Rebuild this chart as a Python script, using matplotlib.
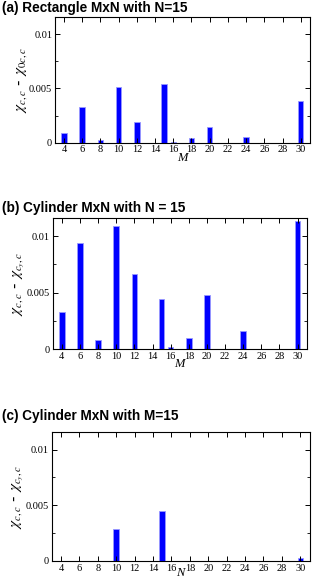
import numpy as np
import matplotlib.pyplot as plt
from matplotlib.ticker import MultipleLocator

plt.rcParams['mathtext.fontset'] = 'stix'

# Data
sizes = [4, 6, 8, 10, 12, 15, 16, 18, 20, 24, 30]
rect_n15 = [0.00085, 0.00325, 0.00025, 0.0051, 0.0019, 0.0054, 0.00003, 0.00045, 0.00147, 0.00055, 0.0038]
cyl_n15 = [0.0033, 0.0094, 0.0008, 0.01088, 0.00667, 0.00442, 0.00018, 0.001, 0.0048, 0.00162, 0.01133]
cyl_m15_sizes = [10, 15, 30]
cyl_m15 = [0.00288, 0.00447, 0.0003]

xticks = list(range(4, 31, 2))
titles = ["(a) Rectangle MxN with N=15",
          "(b) Cylinder MxN with N = 15",
          "(c) Cylinder MxN with M=15"]
ylabels = [r"$\chi_{c,c}$ - $\chi_{0c,c}$",
           r"$\chi_{c,c}$ - $\chi_{c_y,c}$",
           r"$\chi_{c,c}$ - $\chi_{c_y,c}$"]
xlabels = ["M", "M", "N"]
xlabel_pads = [-2, -2, -4]

fig = plt.figure(figsize=(3.12, 5.81), dpi=100)
# axes rectangles [left, bottom, width, height]
rects = [[0.176, 0.7544, 0.817, 0.2169],
         [0.169, 0.3993, 0.814, 0.225],
         [0.166, 0.0345, 0.826, 0.2225]]
title_y = [0.986, 0.642, 0.284]
data = [(sizes, rect_n15), (sizes, cyl_n15), (cyl_m15_sizes, cyl_m15)]

for i in range(3):
    ax = fig.add_axes(rects[i])
    x, y = data[i]
    ax.bar(x, y, width=0.6, color='#0000ff', edgecolor='#9999ff', linewidth=0.6)
    ax.set_xlim(3, 31)
    ax.set_ylim(0, 0.0116)
    ax.set_xticks(xticks)
    ax.set_xticklabels([str(t) for t in xticks], family='Liberation Serif', fontsize=7.5)
    ax.set_yticks([0, 0.005, 0.01])
    ax.set_yticklabels(['0', '0.005', '0.01'], family='Liberation Serif', fontsize=7.5)
    ax.yaxis.set_minor_locator(MultipleLocator(0.0025))
    ax.tick_params(which='both', direction='in', top=True, right=True, pad=2)
    ax.tick_params(which='major', length=3.5, width=0.7)
    ax.tick_params(which='minor', length=2, width=0.6)
    for s in ax.spines.values():
        s.set_linewidth(0.8)
    ax.set_xlabel(xlabels[i], family='Liberation Serif', style='italic', fontsize=9,
                  labelpad=xlabel_pads[i])
    ax.set_ylabel(ylabels[i], fontsize=11, labelpad=0)
    fig.text(0.005, title_y[i], titles[i], family='Liberation Sans', weight='bold',
             fontsize=9.8, va='center', ha='left')

fig.savefig('out.png', dpi=100)
